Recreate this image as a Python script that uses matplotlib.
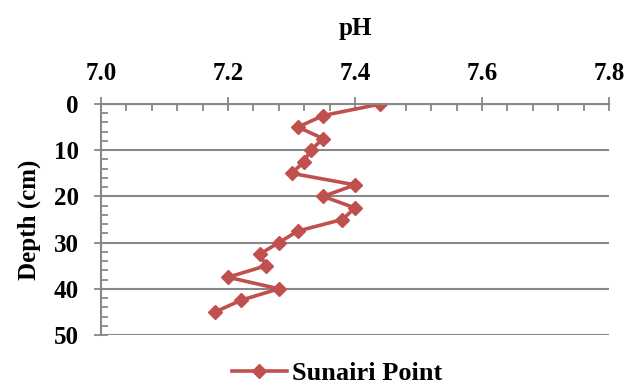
import matplotlib.pyplot as plt
from matplotlib.ticker import MultipleLocator

plt.rcParams['font.family'] = ['Liberation Serif', 'DejaVu Serif']
plt.rcParams['font.weight'] = 'bold'

# pH profile with depth
depth = [0, 2.5, 5, 7.5, 10, 12.5, 15, 17.5, 20, 22.5, 25, 27.5, 30,
         32.5, 35, 37.5, 40, 42.5, 45]
ph = [7.44, 7.35, 7.31, 7.35, 7.33, 7.32, 7.30, 7.40, 7.35, 7.40, 7.38,
      7.31, 7.28, 7.25, 7.26, 7.20, 7.28, 7.22, 7.18]

red = '#C0504D'
gray = '#888888'

fig = plt.figure(figsize=(6.29, 3.84), dpi=100)
ax = fig.add_axes([101/629, 1 - 335/384, 508/629, 231/384])

ax.plot(ph, depth, color=red, lw=2.6, marker='D', ms=7.5,
        label='Sunairi Point', solid_joinstyle='miter')

ax.set_xlim(7.0, 7.8)
ax.set_ylim(50, 0)
ax.xaxis.tick_top()
ax.xaxis.set_label_position('top')
ax.xaxis.set_major_locator(MultipleLocator(0.2))
ax.xaxis.set_minor_locator(MultipleLocator(0.04))
ax.yaxis.set_major_locator(MultipleLocator(10))
ax.yaxis.set_minor_locator(MultipleLocator(2))
ax.xaxis.set_major_formatter(plt.FormatStrFormatter('%.1f'))

ax.tick_params(which='major', direction='inout', length=10, width=1.3,
               color=gray, labelsize=18)
ax.tick_params(which='minor', direction='in', length=5, width=1.3, color=gray)
ax.tick_params(axis='x', which='major', pad=9)
ax.tick_params(axis='y', which='major', pad=11)

for s in ['right', 'bottom']:
    ax.spines[s].set_visible(False)
for s in ['left', 'top']:
    ax.spines[s].set_color(gray)
    ax.spines[s].set_linewidth(1.5)

ax.grid(axis='y', color=gray, lw=1.5)
ax.set_axisbelow(True)

ax.set_xlabel('pH', fontsize=18, fontweight='bold', labelpad=19)
ax.set_ylabel('Depth (cm)', fontsize=18, fontweight='bold', labelpad=9)

fig.legend(loc='center', bbox_to_anchor=(337/629, 1 - 373/384), frameon=False,
           prop={'size': 19, 'weight': 'bold'}, handlelength=2.1,
           handletextpad=0.2, borderpad=0)

fig.savefig('out.png', dpi=100)
